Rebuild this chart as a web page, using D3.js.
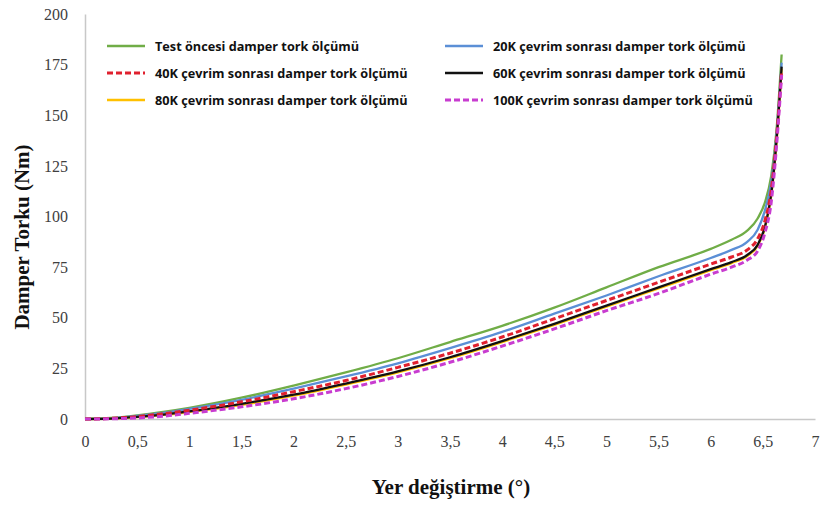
<!DOCTYPE html>
<html>
<head>
<meta charset="utf-8">
<script src="https://cdn.jsdelivr.net/npm/d3@7"></script>
<style>
  body { margin: 0; background: #fff; }
  .tick text { font-family: "Liberation Serif", serif; font-size: 16px; fill: #404040; }
  .leg { font-family: "Open Sans", sans-serif; font-weight: bold; font-size: 12.7px; fill: #111; }
  .ttl { font-family: "Liberation Serif", serif; font-weight: bold; font-size: 21px; fill: #111; }
</style>
</head>
<body>
<svg id="chart"></svg>
<script>
// yer degistirme (derece)
var xVals = [0, 0.25, 0.5, 0.75, 1, 1.5, 2, 2.5, 3, 3.5, 4, 4.5, 5, 5.5, 6, 6.2, 6.35, 6.45, 6.52, 6.58, 6.63, 6.68];

var testOncesi = [0, 0.5, 1.8, 3.5, 5.5, 10.5, 16.5, 23, 30, 38, 46, 55, 65, 75, 84, 88.5, 93, 99, 107, 120, 142, 180];
var cevrim20K  = [0, 0.4, 1.5, 3, 5, 9.5, 15, 21, 27.5, 35, 43, 52, 61, 70.5, 79.5, 83.5, 87.5, 93.5, 103, 117, 140, 176];
var cevrim40K  = [0, 0.3, 1.2, 2.6, 4.3, 8.5, 13.5, 19, 25.5, 32.5, 40.5, 49.5, 58.5, 67.5, 76.5, 80, 83.5, 89, 98, 113, 138, 172];
var cevrim60K  = [0, 0.2, 1, 2.2, 3.8, 7.5, 12, 17.5, 23.5, 30.5, 38.5, 47, 56, 65, 74, 77.5, 81, 86, 95, 111, 137, 174];
var cevrim80K  = [0, 0.2, 0.9, 2, 3.5, 7, 11.5, 17, 23, 30, 38, 46.5, 55.5, 64.5, 73.5, 77, 80.5, 85.5, 94.5, 110, 136, 173];
var cevrim100K = [0, 0.1, 0.5, 1.4, 2.8, 6, 10, 15, 21, 28, 36, 44.5, 53.5, 62, 71.5, 75, 78.5, 83, 92, 107, 134, 170];

var xTicks = [0, 0.5, 1, 1.5, 2, 2.5, 3, 3.5, 4, 4.5, 5, 5.5, 6, 6.5, 7];
var yTicks = [0, 25, 50, 75, 100, 125, 150, 175, 200];

var series = [
  {name: "Test öncesi damper tork ölçümü", vals: testOncesi, color: "#70ad47", dash: null, w: 2.3, col: 0, row: 0},
  {name: "20K çevrim sonrası damper tork ölçümü", vals: cevrim20K, color: "#5b8fd6", dash: null, w: 2.3, col: 1, row: 0},
  {name: "80K çevrim sonrası damper tork ölçümü", vals: cevrim80K, color: "#ffc000", dash: null, w: 2.3, col: 0, row: 2},
  {name: "60K çevrim sonrası damper tork ölçümü", vals: cevrim60K, color: "#111111", dash: null, w: 2.3, col: 1, row: 1},
  {name: "40K çevrim sonrası damper tork ölçümü", vals: cevrim40K, color: "#e0202e", dash: "6,3", w: 3, col: 0, row: 1},
  {name: "100K çevrim sonrası damper tork ölçümü", vals: cevrim100K, color: "#c83cd0", dash: "6,3", w: 3, col: 1, row: 2}
];

var width = 821, height = 505;
var svg = d3.select("#chart").attr("width", width).attr("height", height);

var x = d3.scaleLinear().domain([0, 7]).range([85, 815]);
var y = d3.scaleLinear().domain([0, 200]).range([419, 14]);

var fmt = function(d){ return String(d).replace(".", ","); };

// eksenler
var xAxis = svg.append("g").attr("transform", "translate(0,419)")
  .call(d3.axisBottom(x).tickValues(xTicks).tickFormat(fmt).tickSize(0).tickPadding(17));
xAxis.select(".domain").attr("stroke", "#c8c8c8").attr("stroke-width", 1.5);

var yAxis = svg.append("g").attr("transform", "translate(85,0)")
  .call(d3.axisLeft(y).tickValues(yTicks).tickSize(0).tickPadding(17));
yAxis.select(".domain").attr("stroke", "#c8c8c8").attr("stroke-width", 1.5);

var line = d3.line()
  .x(function(d, i){ return x(xVals[i]); })
  .y(function(d){ return y(d); })
  .curve(d3.curveMonotoneX);

series.forEach(function(s){
  svg.append("path")
    .attr("d", line(s.vals))
    .attr("fill", "none")
    .attr("stroke", s.color)
    .attr("stroke-width", s.w)
    .attr("stroke-dasharray", s.dash);
});

// legend
var legX = [107, 445], legY = [46, 73, 100];
series.forEach(function(s){
  var lx = legX[s.col], ly = legY[s.row];
  svg.append("line")
    .attr("x1", lx).attr("x2", lx + 38).attr("y1", ly).attr("y2", ly)
    .attr("stroke", s.color).attr("stroke-width", s.w)
    .attr("stroke-dasharray", s.dash);
  svg.append("text").attr("class", "leg")
    .attr("x", lx + 48).attr("y", ly + 5)
    .text(s.name);
});

svg.append("text").attr("class", "ttl")
  .attr("x", 451).attr("y", 494)
  .attr("text-anchor", "middle")
  .text("Yer değiştirme (°)");

svg.append("text").attr("class", "ttl")
  .attr("transform", "translate(29,237) rotate(-90)")
  .attr("text-anchor", "middle")
  .text("Damper Torku (Nm)");
</script>
</body>
</html>
